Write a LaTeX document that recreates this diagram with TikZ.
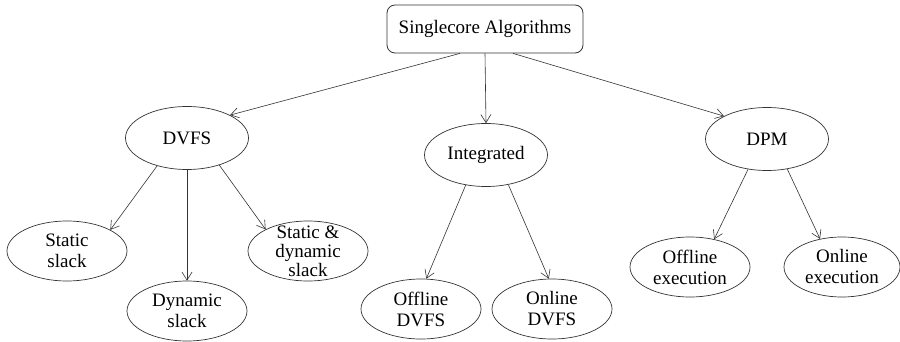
\documentclass[tikz,border=0pt]{standalone}
\usepackage{fontspec}
\setmainfont{Liberation Serif}
\usetikzlibrary{arrows.meta,shapes.geometric}

\begin{document}
\begin{tikzpicture}[
  x=1pt, y=-1pt,
  every node/.style={font=\fontsize{19}{21}\selectfont},
  root/.style={draw=black!80,line width=0.8pt,rounded corners=8pt,
               minimum width=196pt,minimum height=48pt},
  mid/.style={ellipse,draw=black!80,line width=0.7pt,inner sep=1pt,
              minimum width=123pt,minimum height=63pt,align=center},
  leaf/.style={ellipse,draw=black!80,line width=0.7pt,inner sep=1pt,
               minimum width=120pt,minimum height=60pt,align=center},
  arr/.style={-{Straight Barb[length=8pt,width=10pt]},line width=0.6pt,black!80},
]
\useasboundingbox (0,0) rectangle (900,342);

%% ── Root ────────────────────────────────────────────────────────────────
\node[root] (root) at (485,29) {Singlecore Algorithms};

%% ── Second level ────────────────────────────────────────────────────────
\node[mid] (dvfs)  at (187,138) {DVFS};
\node[mid] (integ) at (486,155) {Integrated};
\node[mid] (dpm)   at (767,139) {DPM};

%% ── Leaves ──────────────────────────────────────────────────────────────
\node[leaf] (ss)   at (67,251)  {Static\\slack};
\node[leaf] (ds)   at (187,311) {Dynamic\\slack};
\node[leaf] (sds)  at (308,251) {};
\node[font=\fontsize{19}{19}\selectfont,align=center,inner sep=0pt]
  (sdslbl) at (sds) {Static \&\\dynamic\\slack};
\node[leaf] (offd) at (421,309) {Offline\\DVFS};
\node[leaf] (ond)  at (552,309) {Online\\DVFS};
\node[leaf] (offe) at (690,267) {Offline\\execution};
\node[leaf,minimum width=116pt] (one) at (842,267) {Online\\execution};

%% ── Connections root → second level ─────────────────────────────────────
\draw[arr] ([xshift=-25pt]root.south) -- (dvfs.28);
\draw[arr] (root.south) -- (integ.north);
\draw[arr] ([xshift=28pt]root.south) -- (dpm.152);

%% Connections second level → leaves
\draw[arr] (dvfs.223) -- (ss.26);
\draw[arr] (dvfs.south) -- (ds.north);
\draw[arr] (dvfs.-40) -- (sds.153);
\draw[arr] (integ.236) -- (offd.80);
\draw[arr] (integ.-53) -- (ond.96);
\draw[arr] (dpm.238) -- (offe.49);
\draw[arr] (dpm.-56) -- (one.128);

\end{tikzpicture}
\end{document}
